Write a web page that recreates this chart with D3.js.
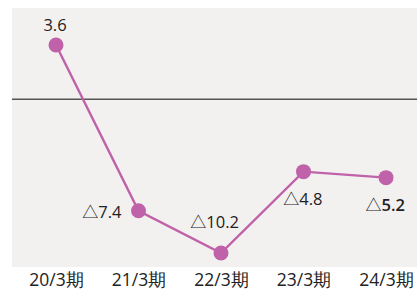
<!DOCTYPE html>
<html><head><meta charset="utf-8">
<script src="https://cdn.jsdelivr.net/npm/d3@7"></script>
<style>html,body{margin:0;padding:0;background:#fff;}svg{display:block;}</style>
</head><body>
<svg id="c" width="417" height="289"></svg>
<script>
const categories = ["20/3期","21/3期","22/3期","23/3期","24/3期"];
const values = [3.6, -7.4, -10.2, -4.8, -5.2];
const valueLabels = ["3.6","7.4","10.2","4.8","5.2"];
const labelPos = ["above","left","aboveLeft","below","below"];

const svg = d3.select("#c");
const plot = {left:12, right:417, top:8, bottom:267};
const x = d3.scalePoint().domain(categories).range([56, 386]);
const y = d3.scaleLinear().domain([-11.13, 6.06]).range([plot.bottom, plot.top]);

svg.append("rect").attr("x",plot.left).attr("y",plot.top)
  .attr("width",plot.right-plot.left).attr("height",plot.bottom-plot.top)
  .attr("fill","#f3f1f0");

svg.append("line").attr("x1",plot.left).attr("x2",plot.right)
  .attr("y1",y(0)).attr("y2",y(0)).attr("stroke","#555").attr("stroke-width",1.5);

const color = "#bf62a9";
const line = d3.line().x((d,i)=>x(categories[i])).y(d=>y(d));
svg.append("path").datum(values).attr("d",line).attr("fill","none")
  .attr("stroke",color).attr("stroke-width",2.4);

svg.selectAll("circle.m").data(values).enter().append("circle")
  .attr("cx",(d,i)=>x(categories[i])).attr("cy",d=>y(d)).attr("r",7.5).attr("fill",color);

const font = "'Open Sans', 'Noto Sans', sans-serif";
const cjk = "'Noto Sans CJK JP', sans-serif";
const lbl = svg.selectAll("text.v").data(values).enter().append("text")
  .attr("font-family",font).attr("font-size",16.5).attr("fill","#222")
  .attr("text-anchor",(d,i)=>labelPos[i]==="above"?"middle":"end")
  .attr("x",(d,i)=>{
    const cx = x(categories[i]);
    if(labelPos[i]==="left") return cx-17;
    if(labelPos[i]==="aboveLeft") return cx+18;
    if(labelPos[i]==="below") return cx+19;
    return cx-1;
  })
  .attr("y",(d,i)=>{
    const cy = y(d);
    if(labelPos[i]==="above") return cy-14;
    if(labelPos[i]==="left") return cy+7;
    if(labelPos[i]==="aboveLeft") return cy-25;
    return cy+33;
  });
lbl.each(function(d,i){
  const t = d3.select(this);
  if(d<0) t.append("tspan").attr("font-family",cjk).attr("font-size",16).text("△");
  t.append("tspan").attr("font-weight",i===4?600:400).text(valueLabels[i]);
});

const xa = svg.append("g").attr("transform",`translate(0,${plot.bottom})`)
  .call(d3.axisBottom(x).tickSize(0));
xa.select(".domain").remove();
xa.selectAll("text").attr("font-family",font).attr("font-size",17.5).attr("fill","#222")
  .attr("y",18.5).attr("dy",0);
</script>
</body></html>
